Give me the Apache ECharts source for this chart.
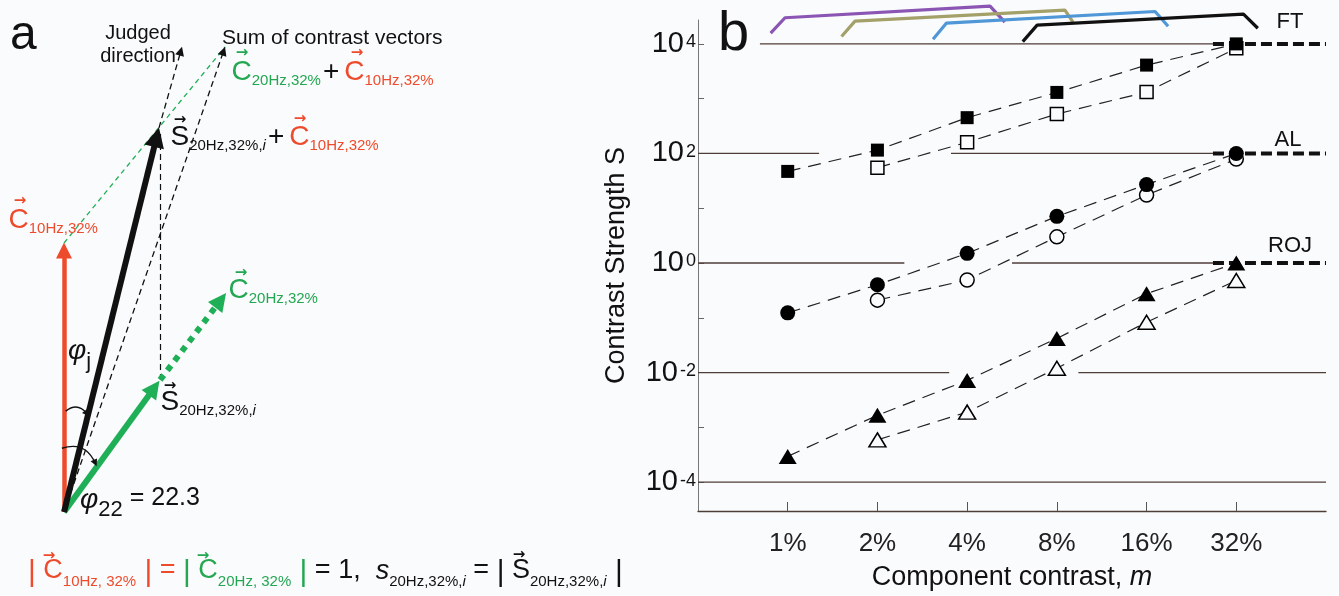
<!DOCTYPE html>
<html>
<head>
<meta charset="utf-8">
<style>
html, body { margin: 0; padding: 0; background: #fafbfd; }
#main { width: 1339px; height: 596px; }
</style>
</head>
<body>
<div id="main"></div>
<script src="https://cdn.jsdelivr.net/npm/echarts@6/dist/echarts.min.js"></script>
<script>
// ---- panel b: contrast strength S versus component contrast m ----
var contrasts = ['1%', '2%', '4%', '8%', '16%', '32%'];
var ftFilled  = [47, 115, 450, 1300, 4100, 10000];
var ftOpen    = [null, 55, 160, 525, 1320, 8300];
var alFilled  = [0.123, 0.40, 1.5, 7.1, 27, 100];
var alOpen    = [null, 0.21, 0.49, 3.0, 17.4, 79];
var rojFilled = [0.000295, 0.00166, 0.0072, 0.042, 0.275, 1.0];
var rojOpen   = [null, 0.00059, 0.0019, 0.012, 0.083, 0.48];
var yLabelValues = [1e-4, 1e-2, 1, 1e2, 1e4];
var yTickValues  = [1e-4, 1e-3, 1e-2, 1e-1, 1, 10, 100, 1000, 1e4];
var subjects = ['FT', 'AL', 'ROJ'];

// reference lines at each decade: [value, from, to] in contrast-index units
var decadeThin = [
  [1e4, -0.31, 4.74],
  [1e2, -1, 0.35], [1e2, 1.82, 4.74],
  [1, -1, 1.30], [1, 2.50, 4.74],
  [1e-2, -1, 1.80], [1e-2, 3.24, 6],
  [1e-4, -1, 6]
];
var decadeThick = [[1e4, 4.74, 6], [1e2, 4.74, 6], [1, 4.74, 6]];

// brackets above the plot
var brackets = [
  ['#8a55b3', [[-0.19, 15700], [-0.03, 30000], [2.255, 49000], [2.42, 25000]]],
  ['#a3a06a', [[0.60, 13600], [0.75, 26000], [3.09, 41500], [3.18, 25000]]],
  ['#4f97d6', [[1.62, 12200], [1.77, 24000], [4.095, 39000], [4.24, 21000]]],
  ['#111111', [[2.62, 11000], [2.78, 22000], [5.08, 35000], [5.24, 19300]]]
];

// ---- panel a: vectors, unit = |C10Hz,32%| ----
var vecRed      = [[0, 0], [0, 0.972]];
var vecBlack    = [[0, 0], [0.344, 1.393]];
var vecGreen    = [[0, 0], [0.335, 0.461]];
var vecGreenDot = [[0.357, 0.491], [0.582, 0.787]];
var dashJudged  = [[0.353, 1.428], [0.434, 1.713]];
var dashSum     = [[0, 0], [0.593, 1.713]];
var dashVert    = [[0.357, 0.491], [0.357, 1.41]];
var dashGreen   = [[0, 1.0], [0.599, 1.729]];
var arcJ        = [[0.006, 0.375], [0.085, 0.366]];
var arc22       = [[-0.008, 0.237], [0.116, 0.182]];

var F = '"Liberation Sans", Arial, sans-serif';
var BG = '#fafbfd';
var RED = '#ee4b2c', GREEN = '#1faf57', GREEN_T = '#23a751', INK = '#111111';
var LINE = '#4e3d38';

function pts(vals) {
  var out = [];
  vals.forEach(function (v, i) { if (v != null) out.push([i, v]); });
  return out;
}

var series = [];

decadeThin.forEach(function (d) {
  series.push({
    type: 'line', xAxisIndex: 0, yAxisIndex: 0, data: [[d[1], d[0]], [d[2], d[0]]],
    symbol: 'none', lineStyle: { color: LINE, width: 1.3 }, z: 2, silent: true
  });
});
decadeThick.forEach(function (d) {
  series.push({
    type: 'line', xAxisIndex: 0, yAxisIndex: 0, data: [[d[1], d[0]], [d[2], d[0]]],
    symbol: 'none', lineStyle: { color: '#111', width: 4, type: [11, 5] }, z: 2, silent: true
  });
});
brackets.forEach(function (b) {
  series.push({
    type: 'line', xAxisIndex: 0, yAxisIndex: 0, data: b[1], clip: false,
    symbol: 'none', lineStyle: { color: b[0], width: 3.2 }, z: 3, silent: true
  });
});

function marks(vals, symbol, size, filled) {
  return {
    type: 'line', xAxisIndex: 0, yAxisIndex: 0, data: pts(vals),
    symbol: symbol, symbolSize: size, showSymbol: true, showAllSymbol: true,
    lineStyle: { color: '#222', width: 1.2, type: [13, 8] },
    itemStyle: { color: filled ? '#000' : BG, borderColor: '#000', borderWidth: filled ? 0 : 1.5 },
    z: filled ? 6 : 5, silent: true
  };
}
series.push(marks(ftOpen, 'rect', 13, false));
series.push(marks(ftFilled, 'rect', 13, true));
series.push(marks(alOpen, 'circle', 14, false));
series.push(marks(alFilled, 'circle', 15, true));
series.push(marks(rojOpen, 'triangle', [17, 14], false));
series.push(marks(rojFilled, 'triangle', [18, 15], true));

function vec(coords, color, width, dash, head, curve) {
  return {
    type: 'lines', coordinateSystem: 'cartesian2d', xAxisIndex: 1, yAxisIndex: 1,
    data: [{ coords: coords }], silent: true,
    lineStyle: { color: color, width: width, type: dash || 'solid', opacity: 1, curveness: curve || 0, cap: 'butt' },
    symbol: ['none', head ? 'triangle' : 'none'], symbolSize: head || 1, z: 3
  };
}
series.push(vec(dashGreen, GREEN, 1.3, [5, 4]));
series.push(vec(dashSum, INK, 1.3, [6, 4], 9));
series.push(vec(dashJudged, INK, 1.3, [6, 4], 9));
series.push(vec(dashVert, INK, 1.2, [6, 4]));
series.push(vec(vecGreenDot, GREEN, 6, [6, 6], 18));
series.push(vec(vecGreen, GREEN, 6, null, 18));
series.push(vec(vecRed, RED, 4.5, null, 16));
series.push(vec(vecBlack, INK, 6, null, 20));
series.push(vec(arcJ, INK, 1.4, null, 7, 0.5));
series.push(vec(arc22, INK, 1.4, null, 7, 0.45));

// ---- text for panel a ----
function tk(size, color, extra) {
  return Object.assign({ fontSize: size, fontFamily: F, fill: color, lineHeight: size, verticalAlign: 'top' }, extra || {});
}
var richTop = {
  gC: tk(28, GREEN_T), gs: tk(15, GREEN_T, { padding: [15, 0, 0, 0] }),
  rC: tk(28, RED), rs: tk(15, RED, { padding: [15, 0, 0, 0] }),
  kC: tk(28, INK), ks: tk(15, INK, { padding: [15, 0, 0, 0] }),
  ksi: tk(15, INK, { padding: [15, 0, 0, 0], fontStyle: 'italic' }),
  p: tk(28, INK, { padding: [0, 5, 0, 2] })
};
var richPhi = {
  ph: tk(28, INK, { fontStyle: 'italic' }),
  pj: tk(22, INK, { padding: [14, 0, 0, 0] }),
  p22: tk(22, INK, { padding: [13, 0, 0, 0] }),
  eq: tk(25, INK, { lineHeight: 28 })
};
var richEq = {
  rb: tk(30, RED), rC: tk(27, RED, { lineHeight: 30 }), rs: tk(15, RED, { padding: [17, 0, 0, 0] }),
  rE: tk(27, RED, { lineHeight: 30 }),
  gb: tk(30, GREEN_T), gC: tk(27, GREEN_T, { lineHeight: 30 }), gs: tk(15, GREEN_T, { padding: [17, 0, 0, 0] }),
  kb: tk(30, INK), kC: tk(27, INK, { lineHeight: 30 }), kE: tk(27, INK, { lineHeight: 30 }),
  kI: tk(27, INK, { lineHeight: 30, fontStyle: 'italic' }),
  ks: tk(15, INK, { padding: [17, 0, 0, 0] }), ksi: tk(15, INK, { padding: [17, 0, 0, 0], fontStyle: 'italic' })
};

function txt(x, y, text, style) {
  return { type: 'text', x: x, y: y, silent: true, z: 20,
    style: Object.assign({ text: text, fontFamily: F, fill: INK, verticalAlign: 'top', align: 'left' }, style || {}) };
}
function arrowMark(cx, cy, color) {
  return txt(cx, cy, '\u2192', { fontFamily: '"DejaVu Sans", sans-serif', fontSize: 15, fontWeight: 'bold', fill: color, align: 'center', verticalAlign: 'middle' });
}

var texts = [
  txt(10, 36, 'a', { fontSize: 48, verticalAlign: 'middle' }),
  txt(138, 21.5, 'Judged\ndirection', { fontSize: 20, lineHeight: 23, align: 'center' }),
  txt(222, 28.2, 'Sum of contrast vectors', { fontSize: 21, lineHeight: 21 }),
  txt(231.5, 58.2, '{gC|C}{gs|20Hz,32%}{p|+}{rC|C}{rs|10Hz,32%}', { rich: richTop }),
  txt(170.5, 123.2, '{kC|S}{ks|20Hz,32%,}{ksi|i}{p|+}{rC|C}{rs|10Hz,32%}', { rich: richTop }),
  txt(8.5, 206.2, '{rC|C}{rs|10Hz,32%}', { rich: richTop }),
  txt(228.5, 276.2, '{gC|C}{gs|20Hz,32%}', { rich: richTop }),
  txt(160.5, 388.2, '{kC|S}{ks|20Hz,32%,}{ksi|i}', { rich: richTop }),
  txt(68, 337, '{ph|\u03c6}{pj|j}', { rich: richPhi }),
  txt(80, 486, '{ph|\u03c6}{p22|22}{eq| = 22.3}', { rich: richPhi }),
  txt(28, 557.5, '{rb||}{rC| C}{rs|10Hz, 32%}{rb| |}{rE| = }{gb||}{gC| C}{gs|20Hz, 32%}{gb| |}' +
    '{kE| = 1,  }{kI|s}{ks|20Hz,32%,}{ksi|i}{kE| = }{kb||}{kC| S}{ks|20Hz,32%,}{ksi|i}{kb| |}', { rich: richEq }),
  arrowMark(242, 53, GREEN_T), arrowMark(357, 53, RED),
  arrowMark(180, 120, INK), arrowMark(300, 119, RED),
  arrowMark(20, 201, RED), arrowMark(241, 273, GREEN_T),
  arrowMark(170, 386, INK),
  arrowMark(49, 556, RED), arrowMark(203, 556, GREEN_T), arrowMark(519, 555, INK),
  // panel b letters
  txt(718, 35, 'b', { fontSize: 56, verticalAlign: 'middle' }),
  txt(1290, 22, subjects[0], { fontSize: 22, align: 'center', verticalAlign: 'middle' }),
  txt(1288, 139.5, subjects[1], { fontSize: 22, align: 'center', verticalAlign: 'middle' }),
  txt(1290, 245.5, subjects[2], { fontSize: 22, align: 'center', verticalAlign: 'middle' })
];

var chart = echarts.init(document.getElementById('main'));
chart.setOption({
  backgroundColor: BG,
  animation: false,
  textStyle: { fontFamily: F },
  grid: [
    { left: 698, top: 20, width: 628, height: 493 },
    { left: 0, top: 0, width: 590, height: 596 }
  ],
  xAxis: [
    {
      type: 'value', gridIndex: 0, min: -1, max: 6,
      axisLine: { onZero: false, lineStyle: { color: LINE, width: 1.3 } },
      axisTick: { inside: true, length: 9, customValues: [0, 1, 2, 3, 4, 5], lineStyle: { color: '#555' } },
      axisLabel: {
        customValues: [0, 1, 2, 3, 4, 5], margin: 20, fontSize: 26, color: '#222',
        formatter: function (v) { return contrasts[Math.round(v)]; }
      },
      splitLine: { show: false },
      name: '{a|Component contrast, }{b|m}', nameLocation: 'middle', nameGap: 53,
      nameTextStyle: { rich: {
        a: { fontSize: 27, color: '#111', fontFamily: F },
        b: { fontSize: 27, color: '#111', fontFamily: F, fontStyle: 'italic' }
      } }
    },
    { type: 'value', gridIndex: 1, min: -0.238, max: 1.955, show: false }
  ],
  yAxis: [
    {
      type: 'log', logBase: 10, gridIndex: 0, min: Math.pow(10, -4.527), max: Math.pow(10, 4.436),
      axisLine: { show: true, onZero: false, lineStyle: { color: '#777', width: 1 } },
      axisTick: { show: true, inside: true, length: 6, customValues: yTickValues, lineStyle: { color: '#666' } },
      axisLabel: {
        customValues: yLabelValues, margin: 2, color: '#111',
        formatter: function (v) { return '{b|10}{s|' + Math.round(Math.log10(v)) + '}'; },
        rich: {
          b: { fontSize: 29, lineHeight: 29, verticalAlign: 'top', fontFamily: F, color: '#111' },
          s: { fontSize: 18, lineHeight: 18, verticalAlign: 'top', padding: [4, 0, 0, 2], fontFamily: F, color: '#111' }
        }
      },
      splitLine: { show: false },
      name: 'Contrast Strength S', nameLocation: 'middle', nameGap: 68,
      nameTextStyle: { fontSize: 27, color: '#111', fontFamily: F }
    },
    { type: 'value', gridIndex: 1, min: -0.312, max: 1.903, show: false }
  ],
  series: series,
  graphic: { elements: texts }
});
</script>
</body>
</html>
